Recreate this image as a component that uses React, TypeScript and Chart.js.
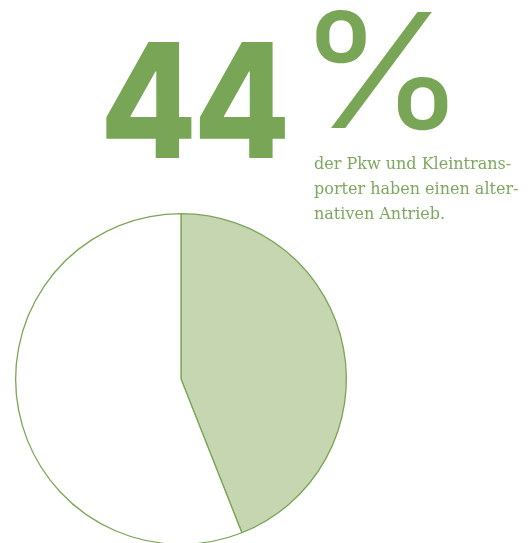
import React, { useEffect, useRef } from "react";
import { Chart, registerables } from "chart.js";

Chart.register(...registerables);

const categories = ["alternativer Antrieb", "konventioneller Antrieb"];
const shares = [44, 56];
const headline = "44";
const percentSign = "%";
const captionLines = ["der Pkw und Kleintrans-", "porter haben einen alter-", "nativen Antrieb."];

const GREEN = "#79A656";
const LIGHT_GREEN = "#C5D6B1";

export default function App() {
  const canvasRef = useRef<HTMLCanvasElement | null>(null);

  useEffect(() => {
    const canvas = canvasRef.current;
    if (!canvas) return;
    const chart = new Chart(canvas, {
      type: "pie",
      data: {
        labels: categories,
        datasets: [
          {
            data: shares,
            backgroundColor: [LIGHT_GREEN, "#FFFFFF"],
            borderColor: GREEN,
            borderWidth: 1.3,
          },
        ],
      },
      options: {
        animation: false,
        responsive: false,
        maintainAspectRatio: false,
        layout: { padding: { left: 15, top: 213, right: 182, bottom: 15 } },
        plugins: {
          legend: { display: false },
          tooltip: { enabled: false },
        },
      },
    });
    return () => chart.destroy();
  }, []);

  return (
    <div
      style={{
        position: "fixed",
        left: 0,
        top: 0,
        width: 529,
        height: 543,
        overflow: "hidden",
        background: "#FFFFFF",
      }}
    >
      <canvas ref={canvasRef} width={529} height={560} style={{ position: "absolute", left: 0, top: 0, width: 529, height: 560 }} />
      <div
        style={{
          position: "absolute",
          left: 100,
          top: 20,
          fontFamily: "Inter",
          fontWeight: 800,
          fontSize: 160,
          lineHeight: "160px",
          letterSpacing: -4,
          color: GREEN,
          whiteSpace: "nowrap",
          transform: "scaleX(0.88)",
          transformOrigin: "0 0",
        }}
      >
        {headline}
      </div>
      <div
        style={{
          position: "absolute",
          left: 297,
          top: -10,
          fontFamily: "Inter",
          fontWeight: 400,
          fontSize: 160,
          lineHeight: "160px",
          color: GREEN,
          whiteSpace: "nowrap",
          transform: "scaleX(1.08)",
          transformOrigin: "0 0",
        }}
      >
        {percentSign}
      </div>
      <div
        style={{
          position: "absolute",
          left: 314,
          top: 151,
          fontFamily: "DejaVu Serif",
          fontSize: 16,
          lineHeight: "25px",
          color: "#7DA75E",
          whiteSpace: "nowrap",
        }}
      >
        {captionLines.map((l, i) => (
          <div key={i}>{l}</div>
        ))}
      </div>
    </div>
  );
}
